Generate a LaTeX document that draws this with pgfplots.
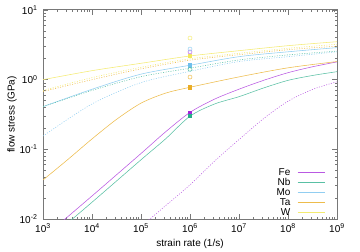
\documentclass[border=0pt]{standalone}
\usepackage{fontspec}
\setmainfont{Liberation Sans}
\usepackage{pgfplots}
\pgfplotsset{compat=1.18}
\definecolor{bFe}{RGB}{148,0,211}
\definecolor{bNb}{RGB}{0,158,115}
\definecolor{bMo}{RGB}{86,180,233}
\definecolor{bTa}{RGB}{230,159,0}
\definecolor{bW}{RGB}{240,228,66}
\colorlet{cFe}{bFe!65!white}
\colorlet{cNb}{bNb!65!white}
\colorlet{cMo}{bMo!65!white}
\colorlet{cTa}{bTa!70!white}
\colorlet{cW}{bW!75!white}
\definecolor{frame}{RGB}{120,120,120}
\newcommand{\fs}{\fontsize{10bp}{12bp}\selectfont}
\begin{document}
\begin{tikzpicture}[font=\fs]
\useasboundingbox (-43bp,-33bp) rectangle (317bp,219bp);
\begin{axis}[
  xmode=log, ymode=log,
  scale only axis, width=294bp, height=209bp,
  xmin=1e3, xmax=1e9, ymin=1e-2, ymax=1e1,
  xtick={1e3,1e4,1e5,1e6,1e7,1e8,1e9},
  xticklabels={10\textsuperscript{3},10\textsuperscript{4},10\textsuperscript{5},10\textsuperscript{6},10\textsuperscript{7},10\textsuperscript{8},10\textsuperscript{9}},
  ytick={1e-2,1e-1,1,1e1},
  yticklabels={10\textsuperscript{-2},10\textsuperscript{-1},10\textsuperscript{0},10\textsuperscript{1}},
  minor xtick={2e3,3e3,4e3,5e3,6e3,7e3,8e3,9e3,2e4,3e4,4e4,5e4,6e4,7e4,8e4,9e4,2e5,3e5,4e5,5e5,6e5,7e5,8e5,9e5,2e6,3e6,4e6,5e6,6e6,7e6,8e6,9e6,2e7,3e7,4e7,5e7,6e7,7e7,8e7,9e7,2e8,3e8,4e8,5e8,6e8,7e8,8e8,9e8},
  minor ytick={0.02,0.03,0.04,0.05,0.06,0.07,0.08,0.09,0.2,0.3,0.4,0.5,0.6,0.7,0.8,0.9,2,3,4,5,6,7,8,9},
  tick align=inside,
  major tick length=5bp, minor tick length=2.5bp,
  every tick/.style={frame, line width=0.6bp},
  axis line style={frame, line width=1bp},
  tick label style={font=\fs},
  xticklabel style={yshift=-1.5bp},
  yticklabel style={xshift=-2bp},
  xlabel={strain rate (1/s)},
  ylabel={flow stress (GPa)},
  xlabel style={at={(axis description cs:0.5,-0.1196)}, anchor=center, font=\fs},
  ylabel style={at={(axis description cs:-0.1054,0.5)}, anchor=center, font=\fs},
  legend plot pos=right,
  legend cell align=right,
  legend style={draw=none, fill=none, at={(0.959,0.007)}, anchor=south east,
    inner sep=0pt, outer sep=0pt, row sep=0pt, column sep=7bp,
    nodes={inner sep=0pt, text height=7.5bp, text depth=2.5bp, font=\fs}},
  legend image code/.code={\draw[#1, solid] (0bp,0bp) -- (27bp,0bp);},
]
% solid curves (with legend)
\addplot[cFe, line width=0.55bp, smooth, no marks] coordinates {
 (1e3,0.00537) (1e4,0.0214) (1e5,0.0871) (3.162e5,0.178) (1e6,0.339) (3.162e6,0.525) (1e7,0.730) (3.162e7,0.977) (1e8,1.259) (3.162e8,1.531) (1e9,1.799)};
\addlegendentry{Fe}
\addplot[cNb, line width=0.55bp, smooth, no marks] coordinates {
 (1e3,0.00437) (1e4,0.0174) (1e5,0.0708) (3.162e5,0.141) (1e6,0.299) (3.162e6,0.447) (1e7,0.570) (3.162e7,0.759) (1e8,0.977) (3.162e8,1.148) (1e9,1.303)};
\addlegendentry{Nb}
\addplot[cMo, line width=0.55bp, smooth, no marks] coordinates {
 (1e3,0.410) (1e4,0.728) (1e5,1.20) (1e6,1.611) (1e7,2.138) (1e8,2.512) (1e9,2.884)};
\addlegendentry{Mo}
\addplot[cTa, line width=0.55bp, smooth, no marks] coordinates {
 (1e3,0.0363) (3.162e3,0.0708) (1e4,0.141) (3.162e4,0.269) (1e5,0.460) (3.162e5,0.640) (1e6,0.778) (1e7,1.096) (1e8,1.479) (1e9,1.820)};
\addlegendentry{Ta}
\addplot[cW, line width=0.55bp, smooth, no marks] coordinates {
 (1e3,1.00) (1e4,1.346) (1e5,1.718) (1e6,2.188) (1e7,2.606) (1e8,3.076) (1e9,3.508)};
\addlegendentry{W}
% dotted curves
\addplot[forget plot, cFe, line width=0.55bp, dash pattern=on 1bp off 1.5bp, smooth, no marks] coordinates {
 (1e5,0.00776) (3.162e5,0.0155) (1e6,0.0309) (3.162e6,0.0676) (1e7,0.138) (3.162e7,0.275) (1e8,0.490) (3.162e8,0.724) (1e9,0.933)};
\addplot[forget plot, cNb, line width=0.55bp, dash pattern=on 1bp off 1.5bp, smooth, no marks] coordinates {
 (1e3,0.410) (1e4,0.700) (1e5,1.104) (1e6,1.462) (1e7,1.919) (1e8,2.265) (1e9,2.570)};
\addplot[forget plot, cMo, line width=0.55bp, dash pattern=on 1bp off 1.5bp, smooth, no marks] coordinates {
 (1e3,0.155) (1e4,0.448) (1e5,0.906) (1e6,1.318) (1e7,1.820) (1e8,2.138) (1e9,2.512)};
\addplot[forget plot, cTa, line width=0.55bp, dash pattern=on 1bp off 1.5bp, smooth, no marks] coordinates {
 (1e3,0.676) (1e4,1.000) (1e5,1.429) (1e6,1.905) (1e7,2.280) (1e8,2.692) (1e9,3.020)};
\addplot[forget plot, cW, line width=0.55bp, dash pattern=on 1bp off 1.5bp, smooth, no marks] coordinates {
 (1e3,0.700) (1e4,1.069) (1e5,1.507) (1e6,1.995) (1e7,2.388) (1e8,2.818) (1e9,3.221)};
% filled squares at 1e6
\addplot[forget plot, only marks, mark=square*, mark size=1.6bp, bFe!85!white] coordinates {(1e6,0.34)};
\addplot[forget plot, only marks, mark=square*, mark size=1.6bp, bNb!85!white] coordinates {(1e6,0.30)};
\addplot[forget plot, only marks, mark=square*, mark size=1.6bp, bMo!85!white] coordinates {(1e6,1.61)};
\addplot[forget plot, only marks, mark=square*, mark size=1.6bp, bTa!85!white] coordinates {(1e6,0.78)};
\addplot[forget plot, only marks, mark=square*, mark size=1.6bp, bW!85!white] coordinates {(1e6,2.19)};
% open circles at 1e6
\addplot[forget plot, only marks, mark=o, mark size=2bp, line width=0.5bp, cFe] coordinates {(1e6,2.50)};
\addplot[forget plot, only marks, mark=o, mark size=2bp, line width=0.5bp, cNb] coordinates {(1e6,1.41)};
\addplot[forget plot, only marks, mark=o, mark size=2bp, line width=0.5bp, cMo] coordinates {(1e6,2.75)};
\addplot[forget plot, only marks, mark=o, mark size=2bp, line width=0.5bp, cTa] coordinates {(1e6,1.09)};
\addplot[forget plot, only marks, mark=o, mark size=2bp, line width=0.5bp, cW] coordinates {(1e6,3.96)};
\end{axis}
\end{tikzpicture}
\end{document}
